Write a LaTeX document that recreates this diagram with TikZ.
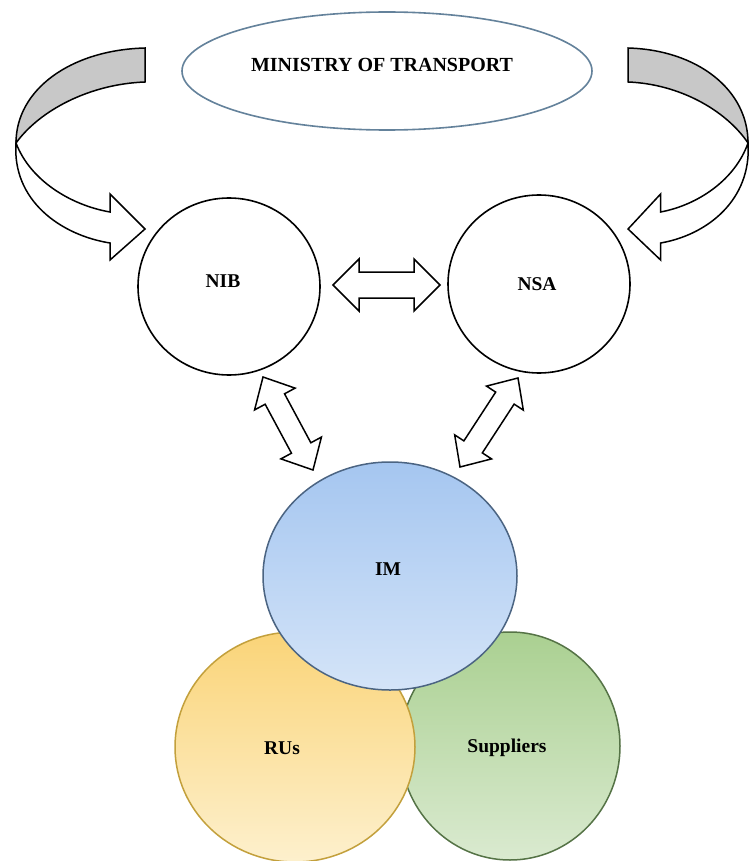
\documentclass[tikz,border=0pt]{standalone}
\usepackage{fontspec}
\setmainfont{Liberation Serif}
\usetikzlibrary{shapes.geometric,calc}
\definecolor{imtop}{RGB}{165,198,240}
\definecolor{imbot}{RGB}{212,228,248}
\definecolor{imdraw}{RGB}{75,100,130}
\definecolor{rutop}{RGB}{250,212,120}
\definecolor{rubot}{RGB}{253,240,205}
\definecolor{rudraw}{RGB}{195,160,60}
\definecolor{suptop}{RGB}{170,208,145}
\definecolor{supbot}{RGB}{218,234,208}
\definecolor{supdraw}{RGB}{85,115,70}
\definecolor{motdraw}{RGB}{100,130,155}
\definecolor{bandgray}{RGB}{200,200,200}
\tikzset{
  lbl/.style={font=\fontsize{19.5}{22}\selectfont\bfseries, inner sep=0pt, anchor=base},
  plaincirc/.style={ellipse, draw=black, line width=1.6pt, fill=white, inner sep=0pt},
  fat/.style={draw=black, line width=1.5pt, fill=white, line join=miter},
  venn/.style={ellipse, line width=1.5pt, inner sep=0pt},
}
\newcommand{\fatdbl}[5]{%
  \path ($(#1)!#5!(#2)$) coordinate (t1) ($(#2)!#5!(#1)$) coordinate (t2);
  \draw[fat] (#1) -- ($(t1)!#4!90:(#1)$) -- ($(t1)!#3!90:(#1)$)
    -- ($(t2)!#3!-90:(#2)$) -- ($(t2)!#4!-90:(#2)$) -- (#2)
    -- ($(t2)!#4!90:(#2)$) -- ($(t2)!#3!90:(#2)$)
    -- ($(t1)!#3!-90:(#1)$) -- ($(t1)!#4!-90:(#1)$) -- cycle;}
\newcommand{\curvedarrowshape}{%
  \draw[fat, fill=bandgray] (145,48) .. controls (70,50) and (16,90) .. (16,143)
    .. controls (40,110) and (90,84) .. (145,82) -- cycle;
  \draw[fat] (16,143) .. controls (12,200) and (60,235) .. (110,243)
    -- (110,260) -- (145,229) -- (110,194) -- (110,212)
    .. controls (70,205) and (30,180) .. (16,143) -- cycle;}
\begin{document}
\begin{tikzpicture}[x=1pt,y=-1pt]
\useasboundingbox (0,0) rectangle (749,861);
\fill[white] (0,0) rectangle (749,861);

% Ministry
\node[ellipse, draw=motdraw, line width=1.6pt, fill=white, minimum width=410pt, minimum height=118pt, inner sep=0pt] (mot) at (387,71) {};
\node[lbl, font=\fontsize{20}{22}\selectfont\bfseries] (motl) at (382,72) {MINISTRY OF TRANSPORT};

% curved arrows
\curvedarrowshape
\begin{scope}[shift={(762.9,0)}, xscale=-0.93]
\curvedarrowshape
\end{scope}

% NIB / NSA
\node[plaincirc, minimum width=182pt, minimum height=177pt] (nib) at (229,286.5) {};
\node[plaincirc, minimum width=182pt, minimum height=178pt] (nsa) at (539,284) {};
\node[lbl] (nibl) at (223,287) {NIB};
\node[lbl] (nsal) at (537,290) {NSA};

% double arrows
\coordinate (h1) at (333,285);
\coordinate (h2) at (440,285);
\fatdbl{h1}{h2}{13pt}{26pt}{26pt}
\coordinate (d1) at (263,377);
\coordinate (d2) at (313,470);
\fatdbl{d1}{d2}{11pt}{23pt}{25pt}
\coordinate (e1) at (518,378);
\coordinate (e2) at (460,467);
\fatdbl{e1}{e2}{11pt}{22pt}{24pt}

% Venn
\node[venn, draw=supdraw, top color=suptop, bottom color=supbot, minimum width=220pt, minimum height=228pt] (sup) at (510,746) {};
\node[venn, draw=rudraw, top color=rutop, bottom color=rubot, minimum width=240pt, minimum height=230pt] (rus) at (295,747) {};
\node[venn, draw=imdraw, top color=imtop, bottom color=imbot, minimum width=254pt, minimum height=228pt] (im) at (390,576) {};
\node[lbl] (iml) at (388,575) {IM};
\node[lbl] (rusl) at (282,754) {RUs};
\node[lbl] (supl) at (507,752) {Suppliers};
\end{tikzpicture}
\end{document}
